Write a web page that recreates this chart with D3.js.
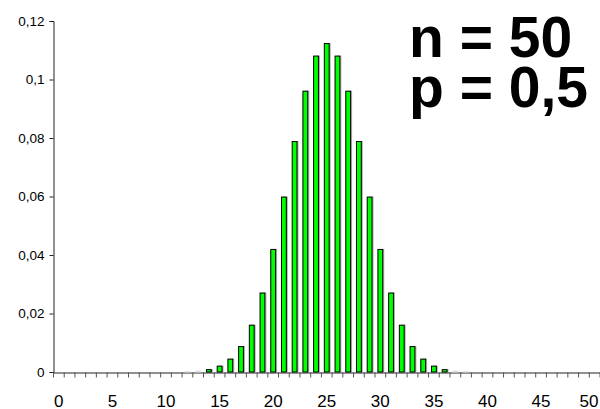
<!DOCTYPE html>
<html><head><meta charset="utf-8">
<script src="https://cdn.jsdelivr.net/npm/d3@7"></script>
<style>html,body{margin:0;padding:0;background:#fff}svg{display:block}#wrap{position:relative;width:600px;height:409px;overflow:hidden}</style>
</head><body>
<div id="wrap"><svg id="c" width="600" height="409"></svg></div>
<script>
const categories = d3.range(0, 51).map(String);
const values = [0,0,0,0,0,0,0,0,0,0,0,0,0.0001,0.0003,0.0008,0.0020,0.0044,0.0087,0.0160,0.0270,0.0419,0.0598,0.0788,0.0960,0.1080,0.1123,0.1080,0.0960,0.0788,0.0598,0.0419,0.0270,0.0160,0.0087,0.0044,0.0020,0.0008,0.0003,0.0001,0,0,0,0,0,0,0,0,0,0,0,0];
const yTicks = [0,0.02,0.04,0.06,0.08,0.1,0.12];
const xLabels = ["0","5","10","15","20","25","30","35","40","45","50"];
const titleLines = ["n = 50","p = 0,5"];

const svg = d3.select("#c");
const font = "'Liberation Sans', Arial, sans-serif";
const x = d3.scaleBand().domain(categories).range([53.5, 600]).paddingInner(0).paddingOuter(0);
const y = d3.scaleLinear().domain([0, 0.12]).range([372, 21]);
const fmt = d => String(d).replace(".", ",");

// y axis
const ya = svg.append("g").attr("transform", "translate(53.5,0)")
  .call(d3.axisLeft(y).tickValues(yTicks).tickFormat(fmt).tickSize(4).tickSizeOuter(4).tickPadding(5));
ya.select(".domain").attr("stroke", "#222");
ya.selectAll(".tick line").attr("stroke", "#222");
ya.selectAll("text").attr("font-family", font).attr("font-size", 13.5).attr("fill", "#000");

// x axis
const xa = svg.append("g").attr("transform", "translate(0,372.5)")
  .call(d3.axisBottom(x).tickValues([]).tickSizeOuter(0));
xa.select(".domain").attr("stroke", "#222");
xa.selectAll(".bt").data(categories.concat(["end"])).enter().append("line")
  .attr("x1", (d,i) => 53.5 + i * x.step()).attr("x2", (d,i) => 53.5 + i * x.step())
  .attr("y1", 0).attr("y2", 5).attr("stroke", "#555");
xa.selectAll(".lab").data(xLabels).enter().append("text")
  .attr("x", d => Math.min(x(d) + x.bandwidth() / 2, 589)).attr("y", 34)
  .attr("text-anchor", "middle").attr("font-family", font).attr("font-size", 17).attr("fill", "#000")
  .text(d => d);

// bars
const bw = x.bandwidth() * 0.45;
const g = svg.append("g");
const data = categories.map((c, i) => ({c, v: values[i]})).filter(d => d.v > 0);
const tiny = d => (372 - y(d.v)) < 1.5;
g.selectAll(".sh").data(data.filter(d => !tiny(d))).enter().append("rect")
  .attr("x", d => x(d.c) + (x.bandwidth() - bw) / 2 + 1.5)
  .attr("y", d => y(d.v) - 0.5)
  .attr("width", bw).attr("height", d => 372 - y(d.v) + 0.5)
  .attr("fill", "#999").attr("opacity", 0.8);
g.selectAll(".bar").data(data).enter().append("rect")
  .attr("x", d => x(d.c) + (x.bandwidth() - bw) / 2)
  .attr("y", d => y(d.v))
  .attr("width", bw).attr("height", d => 372 - y(d.v))
  .attr("fill", d => tiny(d) ? "none" : "#00ff00")
  .attr("stroke", d => tiny(d) ? "#ddd" : "#000").attr("stroke-width", 1);

// title text (HTML overlay, tight line spacing as in the reference)
d3.select("#wrap").append("div")
  .style("position", "absolute").style("left", "409px").style("top", "12.3px")
  .style("font-family", font).style("font-weight", "bold").style("font-size", "57px")
  .style("line-height", "50px").style("white-space", "pre").style("color", "#000")
  .text(titleLines.join("\n"));
</script>
</body></html>
